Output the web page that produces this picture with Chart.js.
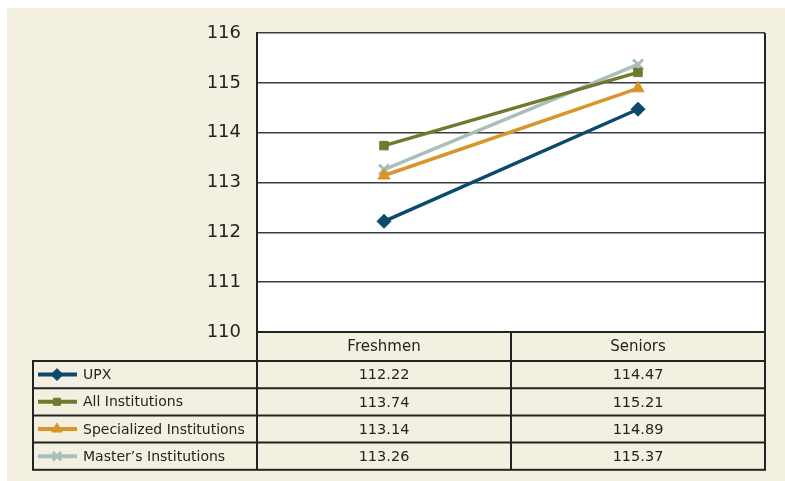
<!DOCTYPE html>
<html>

<head>
  <meta charset="UTF-8">
  <title>Freshmen vs Seniors</title>
  <script src="https://cdn.jsdelivr.net/npm/chart.js"></script>
  <style>
    body {
      margin: 0;
      background: white;
    }

    #wrap {
      width: 785px;
      height: 481px;
    }
  </style>
</head>

<body>
  <div id="wrap"><canvas id="myChart" width="785" height="481"></canvas></div>

  <script>
    // chart data
    const groups = ['Freshmen', 'Seniors'];
    const seriesNames = ['UPX', 'All Institutions', 'Specialized Institutions', 'Master\u2019s Institutions'];
    const upx = [112.22, 114.47];
    const allInst = [113.74, 115.21];
    const specInst = [113.14, 114.89];
    const mastersInst = [113.26, 115.37];
    const yTicks = [110, 111, 112, 113, 114, 115, 116];

    const colors = ['#0b4a6c', '#6f7a2f', '#d8952b', '#a9bfb9'];
    const styles = ['rectRot', 'rect', 'triangle', 'crossRot'];
    const radii = [7, 6, 7, 7];
    const values = [upx, allInst, specInst, mastersInst];

    const beige = '#f3f0e2';
    const ink = '#232323';
    const font = '"DejaVu Sans", sans-serif';

    // background panel + white plot area
    const backdrop = {
      id: 'backdrop',
      beforeDraw(chart) {
        const c = chart.ctx;
        const a = chart.chartArea;
        c.save();
        c.fillStyle = 'white';
        c.fillRect(0, 0, chart.width, chart.height);
        c.fillStyle = beige;
        c.fillRect(7, 8, chart.width - 7, chart.height - 8);
        c.fillStyle = 'white';
        c.fillRect(a.left, a.top, a.right - a.left, a.bottom - a.top);
        c.restore();
      }
    };

    // data table under the plot, columns follow the x scale
    const dataTable = {
      id: 'dataTable',
      afterDraw(chart) {
        const c = chart.ctx;
        const a = chart.chartArea;
        const xs = chart.scales.x;
        const half = (xs.getPixelForValue(1) - xs.getPixelForValue(0)) / 2;
        const headH = 29, rowH = 27.2, tableLeft = 33;
        const top = a.bottom;
        const rowsTop = top + headH;
        const bottom = rowsTop + rowH * seriesNames.length;

        c.save();
        c.strokeStyle = ink;
        c.lineWidth = 2;
        c.fillStyle = ink;
        c.textBaseline = 'middle';

        // right border of plot
        c.beginPath();
        c.moveTo(a.right, a.top);
        c.lineTo(a.right, a.bottom);
        c.stroke();

        // header row
        c.strokeRect(a.left, top, a.right - a.left, headH);
        c.font = '15px ' + font;
        c.textAlign = 'center';
        groups.forEach((g, i) => {
          const cx = xs.getPixelForValue(i);
          c.fillText(g, cx, top + headH / 2 + 1);
          if (i > 0) {
            c.beginPath();
            c.moveTo(cx - half, top);
            c.lineTo(cx - half, bottom);
            c.stroke();
          }
        });

        // body rows
        c.strokeRect(tableLeft, rowsTop, a.right - tableLeft, bottom - rowsTop);
        c.beginPath();
        c.moveTo(a.left, rowsTop);
        c.lineTo(a.left, bottom);
        c.stroke();
        seriesNames.forEach((name, r) => {
          const y0 = rowsTop + r * rowH;
          const cy = y0 + rowH / 2;
          if (r > 0) {
            c.beginPath();
            c.moveTo(tableLeft, y0);
            c.lineTo(a.right, y0);
            c.stroke();
          }
          // legend key
          c.save();
          c.strokeStyle = colors[r];
          c.lineWidth = 4;
          c.beginPath();
          c.moveTo(38, cy);
          c.lineTo(77, cy);
          c.stroke();
          c.fillStyle = colors[r];
          c.lineWidth = styles[r] === 'crossRot' ? 3 : 1;
          Chart.helpers.drawPoint(c, { pointStyle: styles[r], radius: radii[r] - 1, borderWidth: c.lineWidth }, 57, cy);
          c.restore();

          c.textAlign = 'left';
          c.font = '14px ' + font;
          c.fillText(name, 83, cy + 1);
          c.textAlign = 'center';
          c.font = '14.5px ' + font;
          values[r].forEach((v, i) => {
            c.fillText(v.toFixed(2), xs.getPixelForValue(i), cy + 1);
          });
        });
        c.restore();
      }
    };

    const data = {
      labels: groups,
      datasets: seriesNames.map((name, i) => ({
        label: name,
        data: values[i],
        borderColor: colors[i],
        backgroundColor: colors[i],
        borderWidth: 3.5,
        pointStyle: styles[i],
        pointRadius: radii[i],
        pointBorderWidth: styles[i] === 'crossRot' ? 3 : 1,
        pointBorderColor: colors[i],
        pointBackgroundColor: colors[i],
        tension: 0
      }))
    };

    const options = {
      responsive: false,
      animation: false,
      layout: { padding: { left: 0, top: 33, right: 20, bottom: 149 } },
      plugins: {
        legend: { display: false },
        tooltip: { enabled: false }
      },
      scales: {
        x: {
          type: 'category',
          offset: true,
          display: false
        },
        y: {
          min: yTicks[0],
          max: yTicks[yTicks.length - 1],
          afterFit(scale) { scale.width = 257; },
          afterBuildTicks(scale) { scale.ticks = yTicks.map(v => ({ value: v })); },
          ticks: {
            padding: 16,
            color: ink,
            font: { family: font, size: 18 }
          },
          grid: {
            color: '#3c3c3c',
            lineWidth: 1.5,
            drawTicks: false
          },
          border: { color: ink, width: 2 }
        }
      }
    };

    const ctx = document.getElementById('myChart').getContext('2d');
    const myChart = new Chart(ctx, {
      type: 'line',
      data: data,
      options: options,
      plugins: [backdrop, dataTable]
    });
  </script>
</body>

</html>
